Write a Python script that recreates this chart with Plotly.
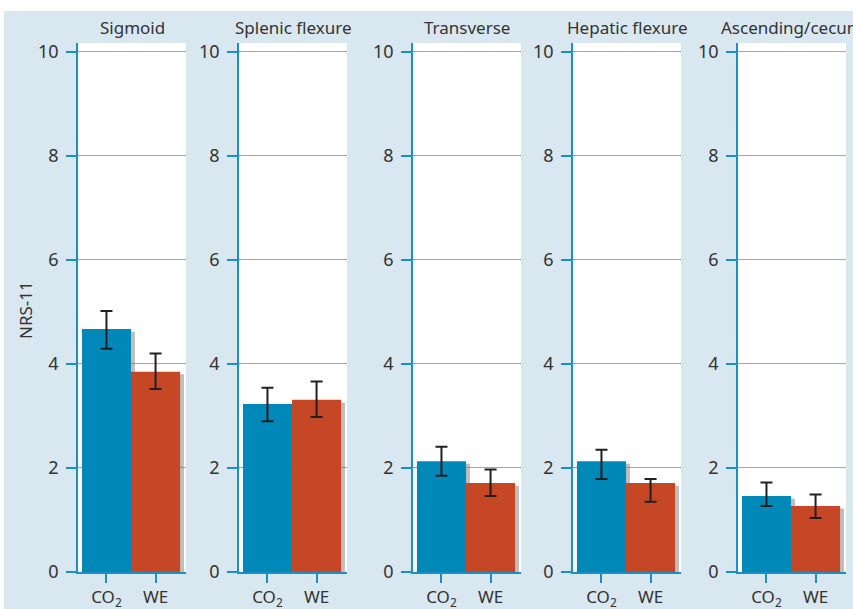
import plotly.graph_objects as go

segments = ["Sigmoid", "Splenic flexure", "Transverse", "Hepatic flexure", "Ascending/cecum"]
groups = ["CO<sub>2</sub>", "WE"]
co2_mean = [4.67, 3.23, 2.13, 2.13, 1.46]
co2_err_plus = [0.35, 0.31, 0.28, 0.22, 0.26]
co2_err_minus = [0.38, 0.33, 0.28, 0.34, 0.19]
we_mean = [3.85, 3.31, 1.71, 1.71, 1.27]
we_err_plus = [0.35, 0.35, 0.26, 0.08, 0.22]
we_err_minus = [0.33, 0.33, 0.25, 0.36, 0.23]
y_ticks = [0, 2, 4, 6, 8, 10]

BLUE = "#0088b8"
RED = "#c54726"
AXIS = "#1b90c4"
BG = "#d9e8f0"
TEXT = "#333333"
FONT = "Noto Sans"

W, H = 853, 609
panel_px = [(78, 186), (239, 347), (413, 521), (573, 681), (738, 846)]
y_top, y_bot = 43, 572

fig = go.Figure()
layout = dict(
    width=W, height=H,
    margin=dict(l=0, r=0, t=0, b=0, pad=0, autoexpand=False),
    paper_bgcolor=BG, plot_bgcolor="white",
    barmode="overlay", showlegend=False,
    font=dict(family=FONT, size=17, color=TEXT),
)

annotations = []
for i, seg in enumerate(segments):
    n = "" if i == 0 else str(i + 1)
    xa, ya = "x" + n, "y" + n
    x0, x1 = panel_px[i]
    # shadow
    fig.add_trace(go.Bar(
        x=[0, 1], y=[co2_mean[i], we_mean[i]], base=-0.05, width=1,
        offset=-0.5 + 0.08, marker=dict(color="rgba(110,110,110,0.45)", line=dict(width=0)),
        hoverinfo="skip", xaxis=xa, yaxis=ya,
    ))
    fig.add_trace(go.Bar(
        x=[0, 1], y=[co2_mean[i], we_mean[i]], width=1,
        marker=dict(color=[BLUE, RED], line=dict(width=0)),
        error_y=dict(type="data", symmetric=False,
                     array=[co2_err_plus[i], we_err_plus[i]],
                     arrayminus=[co2_err_minus[i], we_err_minus[i]],
                     color="#231f20", thickness=2, width=6),
        xaxis=xa, yaxis=ya,
    ))
    layout["xaxis" + n] = dict(
        domain=[x0 / W, x1 / W], range=[-0.58, 1.62], anchor=ya,
        tickmode="array", tickvals=[0, 1], ticktext=groups,
        ticks="outside", ticklen=9, tickcolor=AXIS, tickwidth=1.5,
        showline=True, linecolor=AXIS, linewidth=1.5, showgrid=False,
        zeroline=False, tickfont=dict(size=17, color=TEXT, family=FONT),
        fixedrange=True, automargin=False,
    )
    layout["yaxis" + n] = dict(
        domain=[1 - y_bot / H, 1 - y_top / H], range=[0, 10.17], anchor=xa,
        tickmode="array", tickvals=y_ticks,
        ticks="outside", ticklen=10, tickcolor=AXIS, tickwidth=1.5,
        showline=True, linecolor=AXIS, linewidth=1.5,
        showgrid=True, gridcolor="#a8a8a8", gridwidth=1, zeroline=False,
        tickfont=dict(size=18, color=TEXT, family=FONT),
        ticklabelstandoff=4, fixedrange=True, automargin=False,
    )
    annotations.append(dict(
        text=seg, xref="paper", yref="paper",
        x=(x0 + x1) / 2 / W, y=1 - 28 / H, xanchor="center", yanchor="middle",
        showarrow=False, font=dict(size=17, color=TEXT, family=FONT),
    ))

annotations.append(dict(
    text="NRS-11", xref="paper", yref="paper", x=25 / W, y=1 - 310 / H,
    xanchor="center", yanchor="middle", textangle=-90, showarrow=False,
    font=dict(size=17, color=TEXT, family=FONT),
))
layout["annotations"] = annotations
layout["shapes"] = [
    dict(type="rect", xref="paper", yref="paper", x0=-0.05, x1=1.05,
         y0=1 - 11 / H, y1=1.05, fillcolor="white", line=dict(width=0), layer="above"),
    dict(type="rect", xref="paper", yref="paper", x0=-0.05, x1=4 / W,
         y0=-0.05, y1=1.05, fillcolor="white", line=dict(width=0), layer="above"),
]
fig.update_layout(**layout)
fig.write_html("out.html", config={"displayModeBar": False},
               post_script="document.body.style.margin='0';")
